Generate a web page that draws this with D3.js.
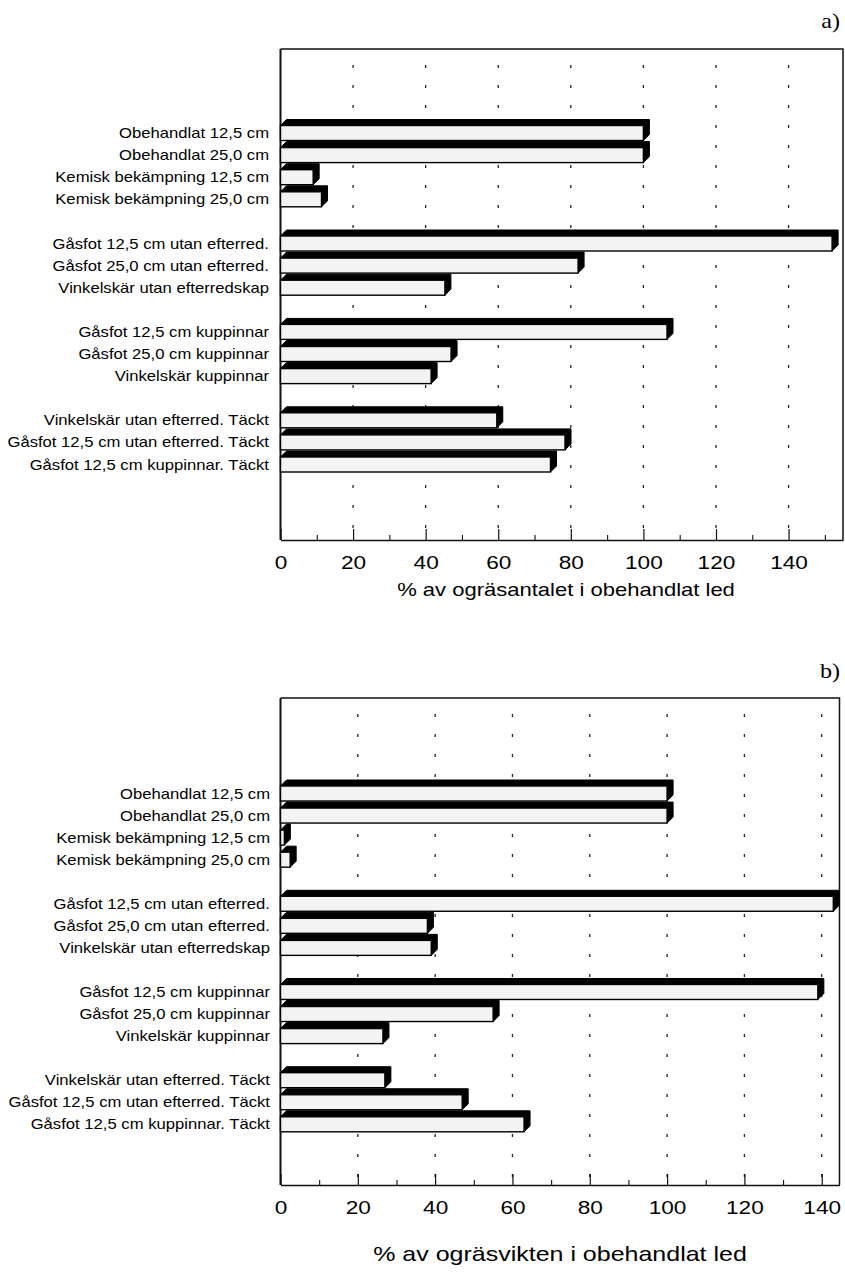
<!DOCTYPE html>
<html><head><meta charset="utf-8">
<script src="https://cdn.jsdelivr.net/npm/d3@7"></script>
<style>body{margin:0;background:#fff}svg{display:block}</style>
</head><body>
<script>
// ---- data ----
const categories = [
  "Obehandlat 12,5 cm",
  "Obehandlat 25,0 cm",
  "Kemisk bekämpning 12,5 cm",
  "Kemisk bekämpning 25,0 cm",
  "Gåsfot 12,5 cm utan efterred.",
  "Gåsfot 25,0 cm utan efterred.",
  "Vinkelskär utan efterredskap",
  "Gåsfot 12,5 cm kuppinnar",
  "Gåsfot 25,0 cm kuppinnar",
  "Vinkelskär kuppinnar",
  "Vinkelskär utan efterred. Täckt",
  "Gåsfot 12,5 cm utan efterred. Täckt",
  "Gåsfot 12,5 cm kuppinnar. Täckt"
];
const groupSizes = [4, 3, 3, 3];
const valuesA = [100, 100, 9, 11.3, 152, 82, 45.3, 106.5, 47, 41.5, 59.6, 78.4, 74.4];
const valuesB = [100, 100, 1, 2.5, 143, 38, 39, 139, 55, 26.5, 27, 47, 63];
const tickValues = [0, 20, 40, 60, 80, 100, 120, 140];
const minorTickValues = [10, 30, 50, 70, 90, 110, 130, 150];
const gridValues = [20, 40, 60, 80, 100, 120, 140];
const panelLetters = ["a)", "b)"];
const axisTitles = ["% av ogräsantalet i obehandlat led", "% av ogräsvikten i obehandlat led"];

// ---- layout ----
const W = 845, H = 1272;
const SANS = "'Liberation Sans', Arial, Helvetica, sans-serif";
const SERIF = "'Liberation Serif', 'Times New Roman', serif";
const STRETCH = 1.19;

const svg = d3.select("body").append("svg").attr("width", W).attr("height", H);

const domain = [];
{ let idx = 0;
  groupSizes.forEach((n, g) => {
    if (g > 0) domain.push("__gap" + g);
    for (let i = 0; i < n; i++) domain.push(categories[idx++]);
  });
}

const panels = [
  { values: valuesA, letter: panelLetters[0], title: axisTitles[0],
    left: 280.5, right: 843, top: 49, bottom: 540, xMax: 155,
    yFirst: 133, yLast: 464.5, letterY: 28, tickFont: 19, tickBase: 29,
    titleY: 596, titleFont: 18.5, titleX: 566, labelRight: 269 },
  { values: valuesB, letter: panelLetters[1], title: axisTitles[1],
    left: 280.5, right: 839.5, top: 698, bottom: 1185, xMax: 144.6,
    yFirst: 793.5, yLast: 1124.3, letterY: 678, tickFont: 19, tickBase: 29,
    titleY: 1261, titleFont: 21, titleX: 560, labelRight: 270 }
];

function drawPanel(p) {
  const g = svg.append("g");
  const x = d3.scaleLinear().domain([0, p.xMax]).range([p.left, p.right]);
  const y = d3.scalePoint().domain(domain).range([p.yFirst, p.yLast]);

  g.append("path")
    .attr("d", `M${p.left},${p.top}H${p.right}V${p.bottom}`)
    .attr("fill", "none").attr("stroke", "#111").attr("stroke-width", 1.5);
  g.append("line").attr("x1", p.left).attr("x2", p.left)
    .attr("y1", p.top).attr("y2", p.bottom)
    .attr("stroke", "#111").attr("stroke-width", 2);

  g.selectAll("line.grid").data(gridValues).join("line")
    .attr("class", "grid")
    .attr("x1", d => x(d)).attr("x2", d => x(d))
    .attr("y1", p.top + 16).attr("y2", p.bottom)
    .attr("stroke", "#222").attr("stroke-width", 1.3)
    .attr("stroke-dasharray", "3,17");

  const axis = d3.axisBottom(x).tickValues(tickValues)
    .tickSizeInner(-11).tickSizeOuter(0).tickPadding(p.tickBase - 0.71 * p.tickFont)
    .tickFormat(d3.format("d"));
  const ag = g.append("g").attr("transform", `translate(0,${p.bottom})`).call(axis);
  ag.select(".domain").attr("stroke", "#111").attr("stroke-width", 1.6);
  ag.selectAll(".tick line").attr("stroke", "#111").attr("stroke-width", 1.2);
  ag.selectAll(".tick text")
    .attr("font-family", SANS).attr("font-size", p.tickFont).attr("fill", "#000")
    .attr("transform", `scale(${STRETCH},1)`);

  const minor = d3.axisBottom(x)
    .tickValues(minorTickValues.filter(v => v <= p.xMax))
    .tickSizeInner(-5).tickSizeOuter(0).tickFormat("");
  const mg = g.append("g").attr("transform", `translate(0,${p.bottom})`).call(minor);
  mg.select(".domain").remove();
  mg.selectAll(".tick line").attr("stroke", "#111").attr("stroke-width", 1.1);

  const lab = g.selectAll("g.lab").data(categories).join("g")
    .attr("class", "lab")
    .attr("transform", d => `translate(${p.labelRight},${y(d) + 5})`);
  lab.append("text")
    .attr("text-anchor", "end")
    .attr("font-family", SANS).attr("font-size", 14).attr("fill", "#000")
    .attr("transform", `scale(${STRETCH},1)`)
    .text(d => d);

  const depth = 6, half = 7.5;
  const rows = categories.map((c, i) => ({ c, v: p.values[i] }));
  const bars = g.selectAll("g.bar").data(rows).join("g").attr("class", "bar");
  bars.append("path")
    .attr("d", d => {
      const x0 = x(0), x1 = x(d.v), yt = y(d.c) - half, yb = y(d.c) + half;
      return `M${x0},${yt}L${x0 + depth},${yt - depth}L${x1 + depth},${yt - depth}` +
             `L${x1 + depth},${yb - depth}L${x1},${yb}L${x1},${yt}Z`;
    })
    .attr("fill", "#000").attr("stroke", "#000").attr("stroke-width", 1);
  bars.append("rect")
    .attr("x", x(0)).attr("y", d => y(d.c) - half)
    .attr("width", d => x(d.v) - x(0)).attr("height", half * 2)
    .attr("fill", "#f3f3f3").attr("stroke", "#000").attr("stroke-width", 1.4);

  g.append("g").attr("transform", `translate(${p.titleX},${p.titleY})`)
    .append("text").attr("text-anchor", "middle")
    .attr("font-family", SANS).attr("font-size", p.titleFont).attr("fill", "#000")
    .attr("transform", `scale(${STRETCH},1)`)
    .text(p.title);

  g.append("g").attr("transform", `translate(840,${p.letterY})`)
    .append("text").attr("text-anchor", "end")
    .attr("font-family", SERIF).attr("font-size", 21).attr("fill", "#000")
    .attr("transform", `scale(1.15,1)`)
    .text(p.letter);
}

panels.forEach(drawPanel);
</script>
</body></html>
